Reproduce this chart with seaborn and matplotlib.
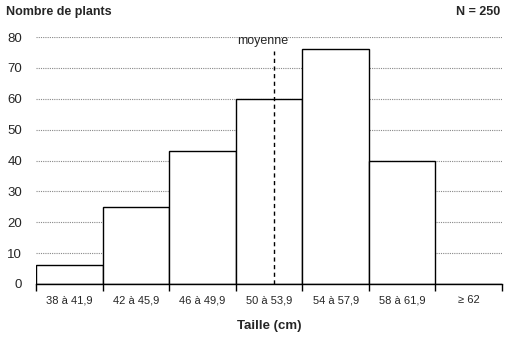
import matplotlib
matplotlib.use("Agg")
import matplotlib.pyplot as plt
import seaborn as sns
import numpy as np
import pandas as pd

categories = ["38 à 41,9", "42 à 45,9", "46 à 49,9", "50 à 53,9", "54 à 57,9", "58 à 61,9", "≥ 62"]
counts = [6, 25, 43, 60, 76, 40, 0]
bin_starts = [38, 42, 46, 50, 54, 58, 62]
bin_width = 4
mean_value = 52.3
mean_line_top = 75.5
y_ticks = [0, 10, 20, 30, 40, 50, 60, 70, 80]

sns.set_theme(style="white")
plt.rcParams['font.family'] = ['Liberation Sans', 'DejaVu Sans']

fig = plt.figure(figsize=(5.12, 3.4), dpi=100)
ax = fig.add_axes([36/512, 1-284/340, 466/512, 247/340])

df = pd.DataFrame({"cat": categories, "n": counts})
sns.barplot(data=df, x="cat", y="n", color="white", saturation=1, edgecolor="black",
            linewidth=1, width=1, ax=ax, zorder=3)

ax.set_xlim(-0.5, len(categories) - 0.5)
ax.set_ylim(0, 80)
ax.set_yticks(y_ticks)
ax.set_yticklabels([str(v) for v in y_ticks], fontsize=9.5)
for v in y_ticks[1:]:
    ax.axhline(v, color="#888888", linestyle=(0, (1, 1)), linewidth=0.8, zorder=1)

# mean line
idx = bin_starts.index(50)
xm = idx - 0.5 + (mean_value - bin_starts[idx]) / bin_width
ax.plot([xm, xm], [0, mean_line_top], color="black", linestyle=(0, (3, 2.5)), linewidth=1, zorder=4)
ax.text(xm - 0.17, 76.7, "moyenne", ha="center", va="bottom", fontsize=9, zorder=5)

for s in ["top", "right", "left"]:
    ax.spines[s].set_visible(False)
ax.spines["bottom"].set_color("black")
ax.spines["bottom"].set_linewidth(1)
ax.spines["bottom"].set_zorder(6)

ax.set_xticks(range(len(categories)))
ax.set_xticklabels(categories, fontsize=8)
ax.set_xticks(np.arange(-0.5, len(categories)), minor=True)
ax.tick_params(axis="x", which="major", length=0, pad=8)
ax.tick_params(axis="x", which="minor", length=5, width=1, color="black", direction="out", bottom=True)
ax.tick_params(axis="y", length=0, pad=10)
ax.set_xlabel("Taille (cm)", fontsize=9.5, fontweight="bold", labelpad=11)
ax.set_ylabel("")

fig.text(6/512, 1-12/340, "Nombre de plants", fontsize=9, fontweight="bold", ha="left", va="center")
fig.text(500/512, 1-12/340, "N = 250", fontsize=9, fontweight="bold", ha="right", va="center")

fig.savefig("out.png", dpi=100)
